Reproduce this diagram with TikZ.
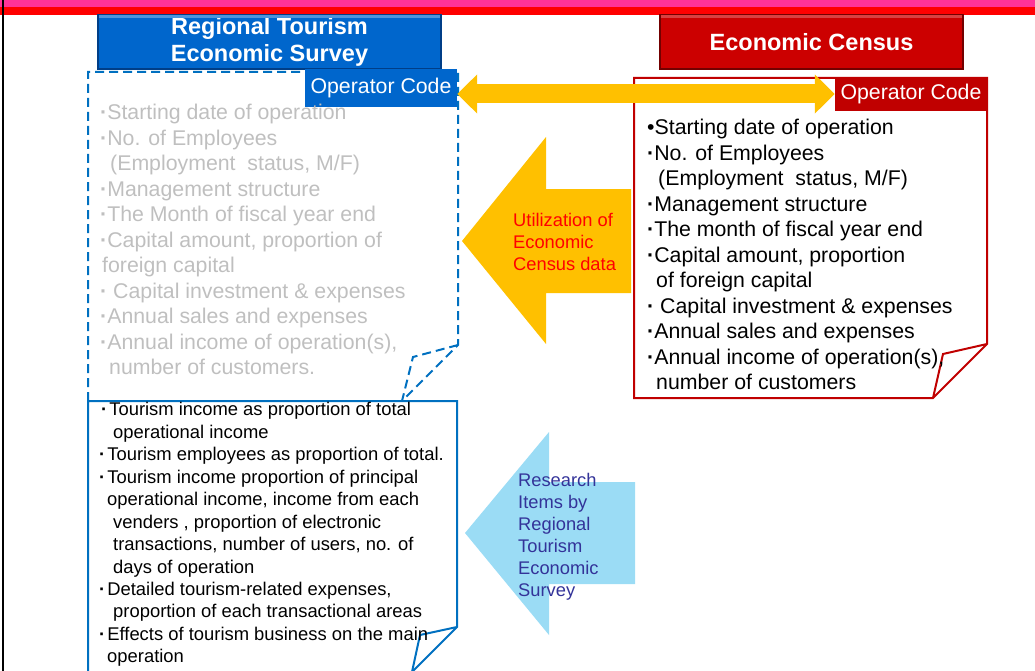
\documentclass[tikz,border=0pt]{standalone}
\usepackage{fontspec}
\setmainfont{Liberation Sans}
\usetikzlibrary{arrows.meta}
\definecolor{slidepink}{RGB}{255,51,153}
\definecolor{slidered}{RGB}{255,0,0}
\definecolor{surveyblue}{RGB}{0,102,204}
\definecolor{surveydark}{RGB}{0,62,135}
\definecolor{censusred}{RGB}{204,0,0}
\definecolor{censusdark}{RGB}{115,0,0}
\definecolor{boxred}{RGB}{192,0,0}
\definecolor{boxblue}{RGB}{0,112,192}
\definecolor{arrowyellow}{RGB}{255,192,0}
\definecolor{arrowsky}{RGB}{155,220,245}
\definecolor{itemgrey}{RGB}{191,191,191}
\definecolor{skytext}{RGB}{51,51,153}
\newcommand{\dt}{{\bfseries ·}}
\tikzset{
    title/.style={rectangle,minimum width=#1,minimum height=54pt,inner sep=0pt,text=white,align=center,
        font=\fontsize{23.5}{26.5}\selectfont\bfseries,line width=1.5pt},
    hilite/.style={line width=2.5pt},
    optag/.style={rectangle,minimum width=152pt,inner sep=0pt,text=white,font=\fontsize{21.3}{25.5}\selectfont},
    bigitems/.style={anchor=north west,inner sep=0pt,align=left,font=\fontsize{21.3}{25.5}\selectfont},
    smallitems/.style={anchor=north west,inner sep=0pt,align=left,font=\fontsize{18.4}{22.45}\selectfont},
    blocktext/.style={anchor=north west,inner sep=0pt,align=left,font=\fontsize{18.3}{22}\selectfont},
    dashbox/.style={draw=boxblue,line width=2pt,dash pattern=on 9pt off 5pt},
    solidbox/.style={draw=boxblue,line width=2pt},
    censusbox/.style={draw=boxred,line width=2pt},
    linkarrow/.style={draw=arrowyellow,line width=19pt,{Triangle[length=20pt,width=38pt]}-{Triangle[length=20pt,width=38pt]}},
}

\begin{document}
\begin{tikzpicture}[x=1pt,y=-1pt]
\useasboundingbox (0,0) rectangle (1035,671);
% slide frame
\fill[slidepink] (0,0) rectangle (1035,7);
\fill[slidered] (0,7) rectangle (1035,15);
\draw[line width=2pt] (3,0) -- (3,671);

% titles
\node[title=343pt,fill=surveyblue,draw=surveydark] (surveytitle) at (269.5,42) {Regional Tourism\\Economic Survey};
\node[title=303pt,fill=censusred,draw=censusdark] (censustitle) at (811.5,42) {Economic Census};
\draw[hilite,white!30!surveyblue] ([xshift=2pt,yshift=-2.5pt]surveytitle.north west) -- ([xshift=-2pt,yshift=-2.5pt]surveytitle.north east);
\draw[hilite,white!25!censusred] ([xshift=2pt,yshift=-2.5pt]censustitle.north west) -- ([xshift=-2pt,yshift=-2.5pt]censustitle.north east);

% survey boxes
\draw[dashbox] (88,401) -- (88,72) -- (458,72) -- (458,345) -- (402,401);
\draw[dashbox] (458,345) -- (413,357) -- (402,401);
\draw[solidbox] (88,672) -- (88,401) -- (457,401) -- (457,627) -- (412,672);
\draw[solidbox] (457,627) -- (420,635) -- (412,672);

% census box
\draw[censusbox] (634,78) -- (987,78) -- (987,344) -- (933,398) -- (634,398) -- cycle;
\draw[censusbox] (987,344) -- (943,354) -- (933,398);

% block arrows
\fill[arrowyellow] (462,241) -- (546,137) -- (546,189) -- (631,189) -- (631,293) -- (546,293) -- (546,344) -- cycle;
\fill[arrowsky] (465,533) -- (549,432) -- (549,482) -- (635,482) -- (635,584) -- (549,584) -- (549,635) -- cycle;
\node[blocktext,text=red] (usetext) at (513,213.5) {Utilization of\\Economic\\Census data};
\node[blocktext,text=skytext] (researchtext) at (518,473) {Research\\Items by\\Regional\\Tourism\\Economic\\Survey};

% operator code link
\node[optag,fill=surveyblue,minimum height=38pt] (surveycode) at (381,88) {Operator Code};
\node[optag,fill=boxred,minimum height=34pt] (censuscode) at (911,94) {Operator Code};
\draw[linkarrow] (surveycode.east |- censuscode.west) -- (censuscode.west);

% item lists
\node[bigitems,text=itemgrey] (greyitems) at (100,104) {%
\dt Starting date of operation\\
\dt No. of Employees\\
\hspace*{10pt}(Employment\ \ status, M/F)\\
\dt Management structure\\
\dt The Month of fiscal year end\\
\dt Capital amount, proportion of\\
\hspace*{2pt}foreign capital\\
\dt\ Capital investment \& expenses\\
\dt Annual sales and expenses\\
\dt Annual income of operation(s),\\
\hspace*{9pt}number of customers.};
\node[bigitems] (censusitems) at (647,119.3) {%
•Starting date of operation\\
\dt No. of Employees\\
\hspace*{11pt}(Employment\ \ status, M/F)\\
\dt Management structure\\
\dt The month of fiscal year end\\
\dt Capital amount, proportion\\
\hspace*{9pt}of foreign capital\\
\dt\ Capital investment \& expenses\\
\dt Annual sales and expenses\\
\dt Annual income of operation(s),\\
\hspace*{9pt}number of customers};
\node[smallitems] (surveyitems) at (99,402.4) {%
\hspace*{2pt}\dt\kern2pt Tourism income as proportion of total\\
\hspace*{14pt}operational income\\
\dt\kern2pt Tourism employees as proportion of total.\\
\dt\kern2pt Tourism income proportion of principal\\
\hspace*{8pt}operational income, income from each\\
\hspace*{14pt}venders , proportion of electronic\\
\hspace*{14pt}transactions, number of users, no. of\\
\hspace*{14pt}days of operation\\
\dt\kern2pt Detailed tourism-related expenses,\\
\hspace*{14pt}proportion of each transactional areas\\
\dt\kern2pt Effects of tourism business on the main\\
\hspace*{8pt}operation};
\end{tikzpicture}
\end{document}
